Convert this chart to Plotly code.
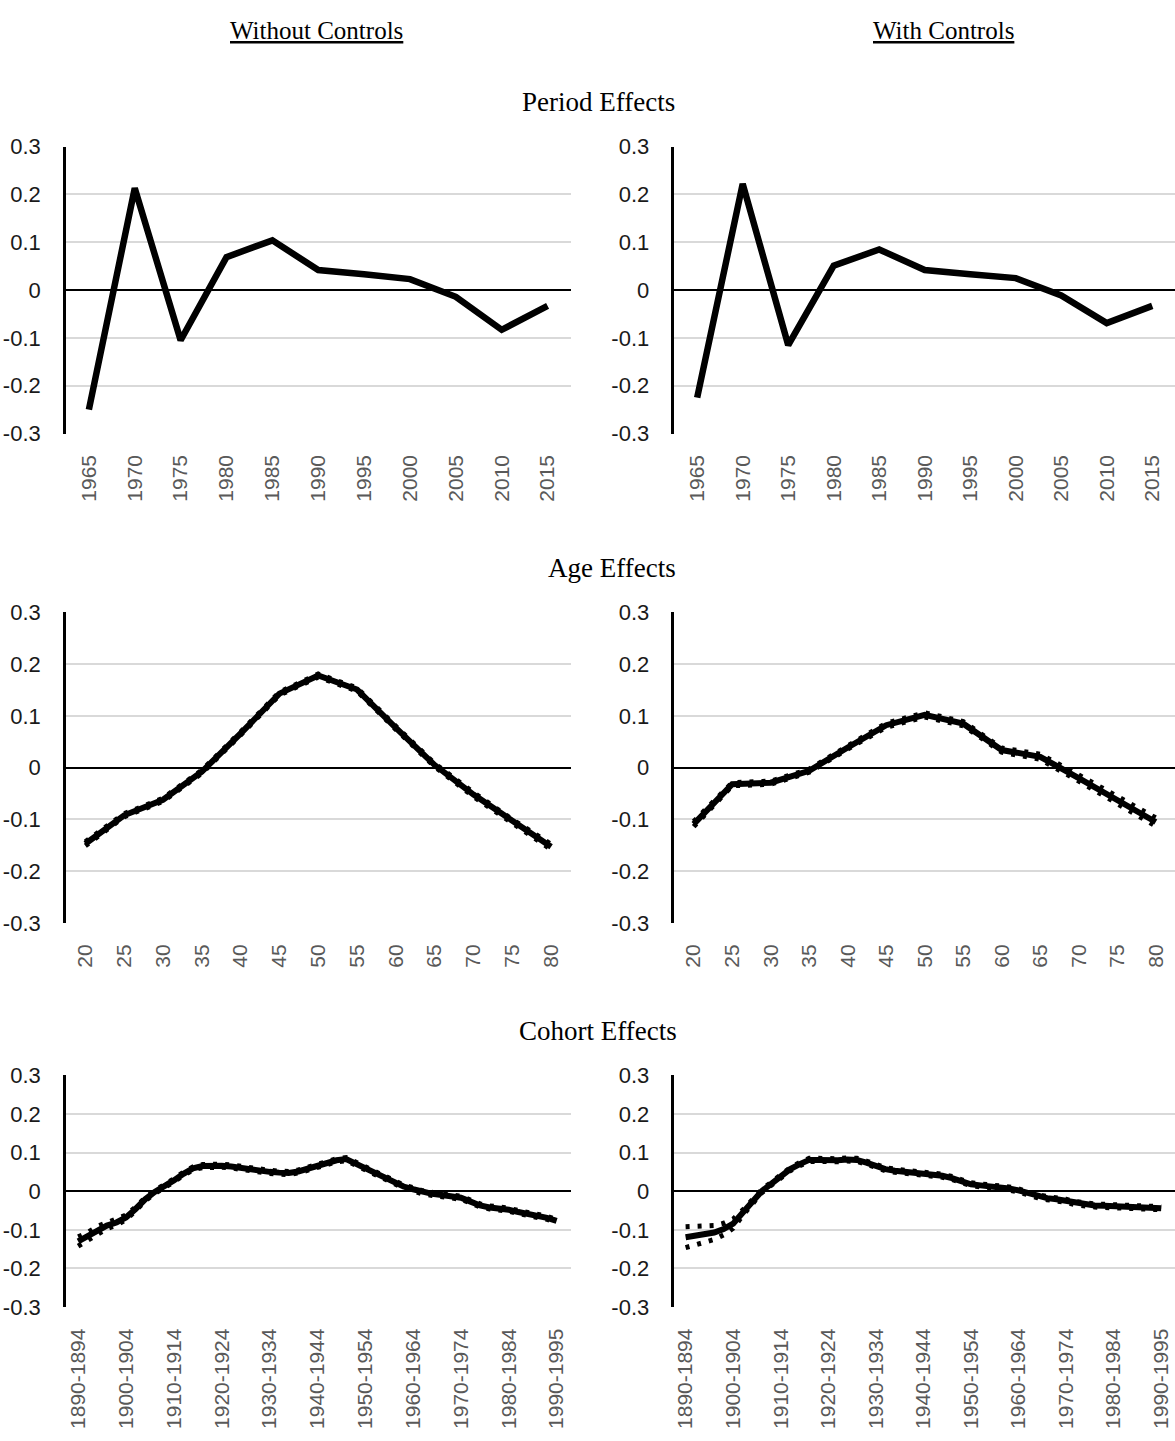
import plotly.graph_objects as go

W, H = 1175, 1441

# ---------------- data ----------------
period_years = ["1965", "1970", "1975", "1980", "1985", "1990", "1995", "2000", "2005", "2010", "2015"]
period_without = [-0.250, 0.213, -0.105, 0.069, 0.104, 0.042, 0.033, 0.023, -0.014, -0.083, -0.033]
period_with = [-0.225, 0.222, -0.115, 0.051, 0.085, 0.042, 0.033, 0.025, -0.011, -0.069, -0.033]

age_labels = ["20", "25", "30", "35", "40", "45", "50", "55", "60", "65", "70", "75", "80"]
age_without = [-0.147, -0.092, -0.062, -0.008, 0.066, 0.143, 0.178, 0.151, 0.077, 0.005, -0.052, -0.104, -0.153]
age_without_ci = [0.004, 0.003, 0.003, 0.003, 0.003, 0.003, 0.003, 0.003, 0.003, 0.003, 0.004, 0.004, 0.005]
age_with = [-0.109, -0.032, -0.029, -0.006, 0.039, 0.082, 0.102, 0.085, 0.034, 0.021, -0.020, -0.062, -0.105]
age_with_ci = [0.005, 0.003, 0.003, 0.003, 0.003, 0.004, 0.004, 0.004, 0.004, 0.005, 0.006, 0.007, 0.008]

cohort_start = list(range(1890, 1991, 2))
cohort_without = [-0.130, -0.117, -0.100, -0.089, -0.081, -0.068, -0.046, -0.021, -0.002, 0.012,
                  0.028, 0.045, 0.059, 0.065, 0.066, 0.066, 0.064, 0.060, 0.057, 0.053,
                  0.050, 0.048, 0.047, 0.051, 0.059, 0.066, 0.073, 0.080, 0.083, 0.071,
                  0.059, 0.046, 0.034, 0.024, 0.012, 0.005, -0.003, -0.007, -0.010, -0.012,
                  -0.017, -0.027, -0.037, -0.042, -0.044, -0.048, -0.054, -0.058, -0.063, -0.069,
                  -0.077]
cohort_without_ci = [0.012, 0.010, 0.009, 0.008, 0.007, 0.006, 0.005, 0.004, 0.004, 0.004,
                     0.004, 0.004, 0.004, 0.004, 0.004, 0.004, 0.004, 0.004, 0.004, 0.004,
                     0.004, 0.004, 0.004, 0.004, 0.004, 0.004, 0.004, 0.004, 0.004, 0.004,
                     0.004, 0.004, 0.004, 0.004, 0.004, 0.004, 0.004, 0.004, 0.004, 0.004,
                     0.004, 0.004, 0.004, 0.004, 0.004, 0.004, 0.004, 0.004, 0.004, 0.004,
                     0.004]
cohort_with = [-0.119, -0.116, -0.113, -0.107, -0.098, -0.084, -0.056, -0.027, 0.000, 0.019,
               0.040, 0.057, 0.070, 0.081, 0.081, 0.080, 0.080, 0.082, 0.081, 0.074,
               0.064, 0.057, 0.053, 0.050, 0.049, 0.047, 0.044, 0.040, 0.034, 0.025,
               0.018, 0.015, 0.013, 0.010, 0.007, 0.002, -0.006, -0.013, -0.018, -0.021,
               -0.025, -0.031, -0.035, -0.037, -0.038, -0.039, -0.040, -0.042, -0.042, -0.041,
               -0.044]
cohort_with_ci = [0.027, 0.024, 0.021, 0.018, 0.015, 0.012, 0.007, 0.005, 0.004, 0.004,
                  0.004, 0.004, 0.004, 0.004, 0.004, 0.004, 0.004, 0.004, 0.004, 0.004,
                  0.004, 0.004, 0.004, 0.004, 0.004, 0.004, 0.004, 0.004, 0.004, 0.004,
                  0.004, 0.004, 0.004, 0.004, 0.004, 0.004, 0.004, 0.004, 0.004, 0.004,
                  0.004, 0.004, 0.004, 0.004, 0.004, 0.004, 0.004, 0.004, 0.004, 0.004,
                  0.004]
cohort_tickvals = [1890, 1900, 1910, 1920, 1930, 1940, 1950, 1960, 1970, 1980, 1990]
cohort_ticklabels = ["1890-1894", "1900-1904", "1910-1914", "1920-1924", "1930-1934", "1940-1944",
                     "1950-1954", "1960-1964", "1970-1974", "1980-1984", "1990-1995"]

y_tickvals = [-0.3, -0.2, -0.1, 0, 0.1, 0.2, 0.3]
y_ticktext = ["-0.3", "-0.2", "-0.1", "0", "0.1", "0.2", "0.3"]

column_titles = ["Without Controls", "With Controls"]
section_titles = ["Period Effects", "Age Effects", "Cohort Effects"]

# ---------------- layout geometry (pixels) ----------------
col_px = [(65, 570), (674, 1175)]
row_px = [(137, 429), (611, 927), (1082, 1318)]

def xdom(c):
    a, b = col_px[c]
    return [a / W, b / W]

def ydom(r):
    t, b = row_px[r]
    return [1 - b / H, 1 - t / H]

fig = go.Figure()

SANS = "Liberation Sans, Arial, sans-serif"
SERIF = "Liberation Serif, Times New Roman, serif"

def add_series(n, x, y, hw=None, width=6):
    xa = "x" if n == 1 else f"x{n}"
    ya = "y" if n == 1 else f"y{n}"
    if hw is not None:
        up = [v + h for v, h in zip(y, hw)]
        lo = [v - h for v, h in zip(y, hw)]
        for band in (up, lo):
            fig.add_trace(go.Scatter(x=x, y=band, mode="lines", xaxis=xa, yaxis=ya,
                                     line=dict(color="black", width=5, dash="4px,8px"),
                                     hoverinfo="skip", showlegend=False))
    fig.add_trace(go.Scatter(x=x, y=y, mode="lines", xaxis=xa, yaxis=ya,
                             line=dict(color="black", width=width),
                             showlegend=False))

add_series(1, period_years, period_without, width=6.5)
add_series(2, period_years, period_with, width=6.5)
add_series(3, age_labels, age_without, age_without_ci)
add_series(4, age_labels, age_with, age_with_ci)
add_series(5, cohort_start, cohort_without, cohort_without_ci)
add_series(6, cohort_start, cohort_with, cohort_with_ci)

layout = dict(
    width=W, height=H,
    margin=dict(l=0, r=0, t=0, b=0),
    paper_bgcolor="white", plot_bgcolor="white",
    showlegend=False,
)

for n in range(1, 7):
    r = (n - 1) // 2
    c = (n - 1) % 2
    xkey = "xaxis" if n == 1 else f"xaxis{n}"
    ykey = "yaxis" if n == 1 else f"yaxis{n}"
    ya = "y" if n == 1 else f"y{n}"
    xa = "x" if n == 1 else f"x{n}"
    xa_cfg = dict(domain=xdom(c), anchor=ya, showgrid=False, zeroline=False, showline=False,
                  tickangle=-90, ticks="outside", ticklen=12, tickcolor="rgba(0,0,0,0)",
                  tickfont=dict(family=SANS, size=21, color="#595959"), fixedrange=True)
    if r == 0:
        xa_cfg.update(type="category", range=[-0.5, 10.5])
    elif r == 1:
        xa_cfg.update(type="category", range=[-0.5, 12.5])
    else:
        rng = [1890 - 2.55, 1890 + 102.9] if c == 0 else [1890 - 2.35, 1890 + 102.9]
        xa_cfg.update(type="linear", range=rng, tickmode="array",
                      tickvals=cohort_tickvals, ticktext=cohort_ticklabels)
    ya_cfg = dict(domain=ydom(r), anchor=xa, range=[-0.3, 0.3], tickmode="array",
                  tickvals=y_tickvals, ticktext=y_ticktext,
                  showgrid=True, gridcolor="#d9d9d9", gridwidth=1.5,
                  zeroline=True, zerolinecolor="black", zerolinewidth=1.6,
                  showline=True, linecolor="black", linewidth=2.5,
                  ticks="outside", ticklen=18, tickcolor="rgba(0,0,0,0)",
                  tickfont=dict(family=SANS, size=22, color="#1a1a1a"), fixedrange=True)
    layout[xkey] = xa_cfg
    layout[ykey] = ya_cfg

annotations = []
for txt, cx in zip(column_titles, [316, 943]):
    annotations.append(dict(text=f"<u>{txt}</u>", x=cx / W, y=1 - 19 / H, xref="paper", yref="paper",
                            xanchor="center", yanchor="middle", showarrow=False,
                            font=dict(family=SERIF, size=25, color="black")))
for txt, cx, cy in zip(section_titles, [598, 612, 598], [92, 566, 1037]):
    annotations.append(dict(text=txt, x=cx / W, y=1 - cy / H, xref="paper", yref="paper",
                            xanchor="center", yanchor="middle", showarrow=False,
                            font=dict(family=SERIF, size=27, color="black")))
layout["annotations"] = annotations

fig.update_layout(**layout)
fig.write_html("out.html")
